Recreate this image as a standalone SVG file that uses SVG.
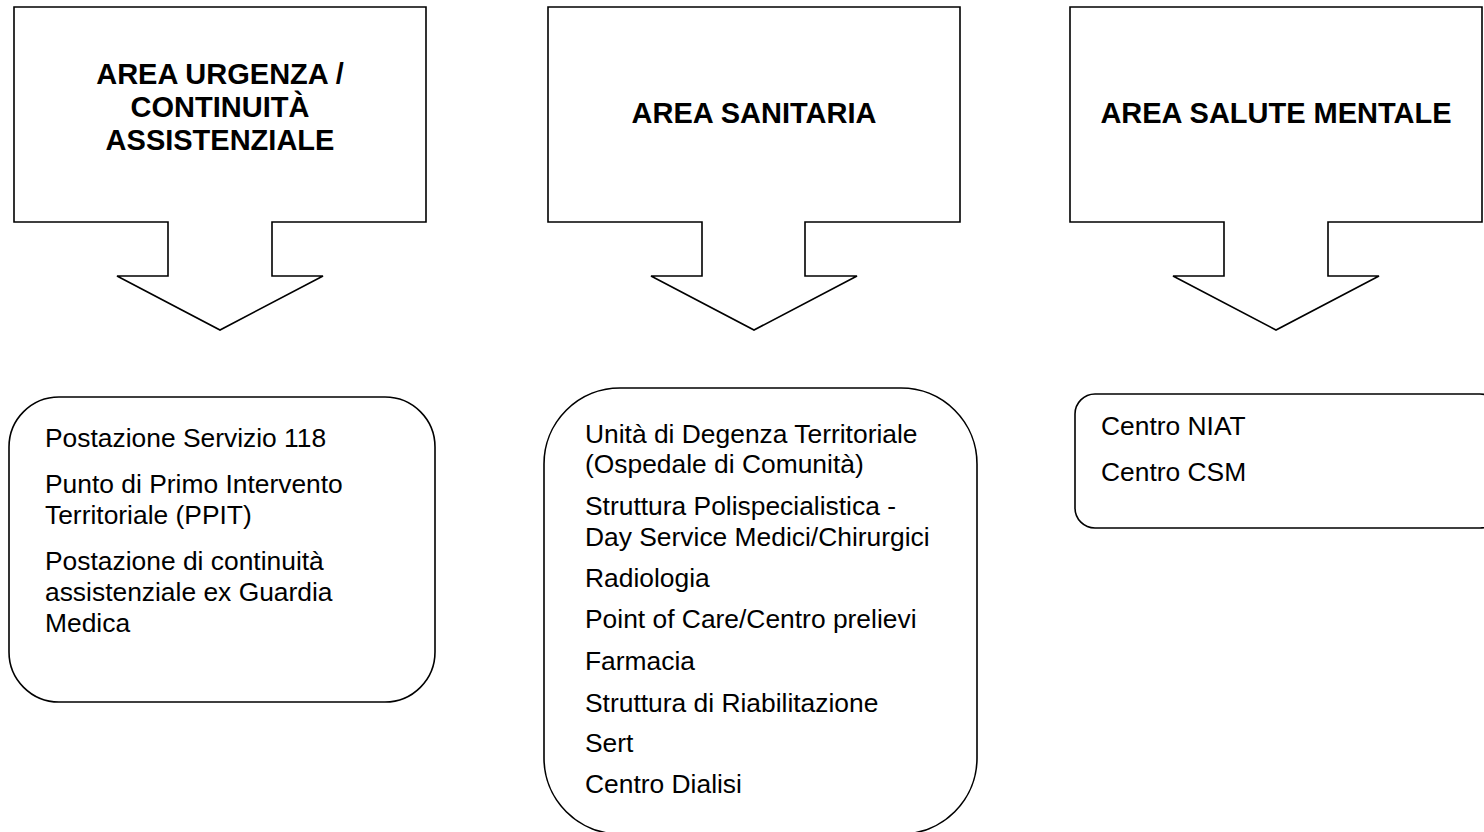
<svg xmlns="http://www.w3.org/2000/svg" width="1484" height="832" viewBox="0 0 1484 832">
<style>
.shape{fill:#fff;stroke:#000;stroke-width:1.6;stroke-linejoin:miter}
.title{font-family:"Liberation Sans",Arial,sans-serif;font-weight:bold;font-size:29px;fill:#000;text-anchor:middle}
.item{font-family:"Liberation Sans",Arial,sans-serif;font-size:26.4px;fill:#000}
</style>
<rect width="1484" height="832" fill="#fff"/>
<g id="callout-urgenza">
<path class="shape" d="M14,7 H426 V222 H272 V276 H323 L220,330 L117,276 H168 V222 H14 Z"/>
<text class="title" x="220" y="84">AREA URGENZA /</text>
<text class="title" x="220" y="117">CONTINUITÀ</text>
<text class="title" x="220" y="150">ASSISTENZIALE</text>
</g>
<g id="callout-sanitaria">
<path class="shape" d="M548,7 H960 V222 H805 V276 H857 L754,330 L651,276 H702 V222 H548 Z"/>
<text class="title" x="754" y="123">AREA SANITARIA</text>
</g>
<g id="callout-mentale">
<path class="shape" d="M1070,7 H1482 V222 H1328 V276 H1379 L1276,330 L1173,276 H1224 V222 H1070 Z"/>
<text class="title" x="1276" y="123">AREA SALUTE MENTALE</text>
</g>
<g id="box-urgenza">
<rect class="shape" x="9" y="397" width="426" height="305" rx="50" ry="50"/>
<text class="item" x="45" y="447">Postazione Servizio 118</text>
<text class="item" x="45" y="493">Punto di Primo Intervento</text>
<text class="item" x="45" y="524">Territoriale (PPIT)</text>
<text class="item" x="45" y="570">Postazione di continuità</text>
<text class="item" x="45" y="601">assistenziale ex Guardia</text>
<text class="item" x="45" y="632">Medica</text>
</g>
<g id="box-sanitaria">
<rect class="shape" x="544" y="388" width="433" height="446" rx="76" ry="76"/>
<text class="item" x="585" y="443">Unità di Degenza Territoriale</text>
<text class="item" x="585" y="473">(Ospedale di Comunità)</text>
<text class="item" x="585" y="515">Struttura Polispecialistica -</text>
<text class="item" x="585" y="546">Day Service Medici/Chirurgici</text>
<text class="item" x="585" y="587">Radiologia</text>
<text class="item" x="585" y="628">Point of Care/Centro prelievi</text>
<text class="item" x="585" y="670">Farmacia</text>
<text class="item" x="585" y="712">Struttura di Riabilitazione</text>
<text class="item" x="585" y="752">Sert</text>
<text class="item" x="585" y="793">Centro Dialisi</text>
</g>
<g id="box-mentale">
<rect class="shape" x="1075" y="394" width="425" height="134" rx="20" ry="20"/>
<text class="item" x="1101" y="435">Centro NIAT</text>
<text class="item" x="1101" y="481">Centro CSM</text>
</g>
<g id="connectors"></g>
</svg>
